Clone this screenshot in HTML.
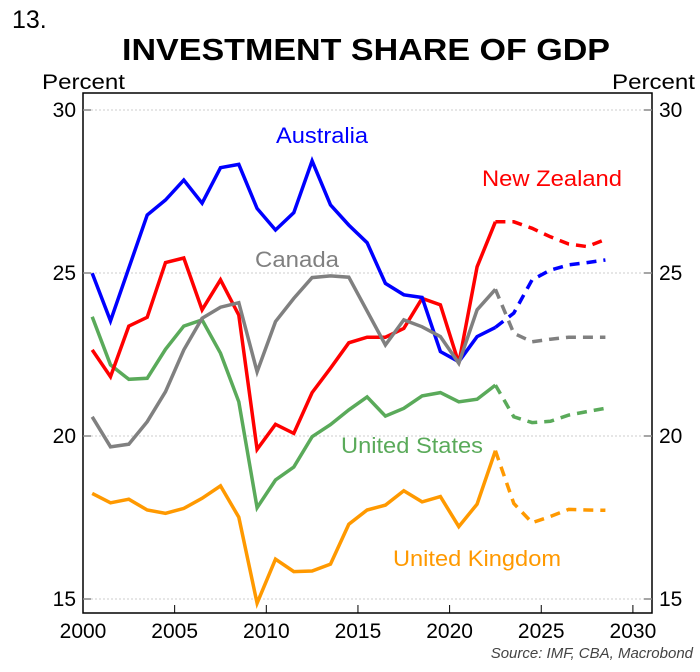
<!DOCTYPE html>
<html><head><meta charset="utf-8"><style>
html,body{margin:0;padding:0;background:#fff;}
svg{display:block;font-family:"Liberation Sans",sans-serif;}
</style></head><body>
<svg id="chart" width="700" height="672" viewBox="0 0 700 672">
<text x="12" y="28" font-size="25" fill="#000">13.</text>
<text x="366" y="60" font-size="31" font-weight="bold" text-anchor="middle" textLength="488" lengthAdjust="spacingAndGlyphs" fill="#000">INVESTMENT SHARE OF GDP</text>
<text x="42" y="89" font-size="21" textLength="83" lengthAdjust="spacingAndGlyphs" fill="#000">Percent</text>
<text x="612" y="89" font-size="21" textLength="83" lengthAdjust="spacingAndGlyphs" fill="#000">Percent</text>
<g id="grid"></g>
<rect x="83" y="93" width="569" height="520" fill="none" stroke="#000" stroke-width="1.5"/>
<g id="axes"></g>
<g id="series"></g>
<text x="322" y="143" font-size="22" textLength="92" lengthAdjust="spacingAndGlyphs" fill="#0000ff" text-anchor="middle">Australia</text>
<text x="552" y="186" font-size="22" textLength="140" lengthAdjust="spacingAndGlyphs" fill="#ff0000" text-anchor="middle">New Zealand</text>
<text x="297" y="267" font-size="22" textLength="84" lengthAdjust="spacingAndGlyphs" fill="#808080" text-anchor="middle">Canada</text>
<text x="412" y="453" font-size="22" textLength="142" lengthAdjust="spacingAndGlyphs" fill="#5aaa5a" text-anchor="middle">United States</text>
<text x="477" y="566" font-size="22" textLength="168" lengthAdjust="spacingAndGlyphs" fill="#ff9900" text-anchor="middle">United Kingdom</text>
<text x="693" y="658" font-size="15" font-style="italic" fill="#444" text-anchor="end">Source: IMF, CBA, Macrobond</text>
</svg>
<script>
const yTicks = [15, 20, 25, 30];
const xTicks = [2000, 2005, 2010, 2015, 2020, 2025, 2030];
const years = [2000,2001,2002,2003,2004,2005,2006,2007,2008,2009,2010,2011,2012,2013,2014,2015,2016,2017,2018,2019,2020,2021,2022];
const forecastYears = [2022,2023,2024,2025,2026,2027,2028];
const australia = [24.99,23.53,25.15,26.78,27.24,27.85,27.14,28.23,28.33,26.98,26.32,26.85,28.44,27.09,26.47,25.93,24.68,24.33,24.25,22.59,22.28,23.05,23.33];
const australiaF = [23.33,23.77,24.79,25.09,25.25,25.32,25.4];
const newZealand = [22.64,21.82,23.37,23.64,25.32,25.46,23.87,24.79,23.71,19.59,20.36,20.08,21.33,22.08,22.86,23.03,23.03,23.3,24.22,24.02,22.23,25.19,26.57];
const newZealandF = [26.57,26.57,26.37,26.11,25.89,25.81,26.03];
const canada = [20.59,19.67,19.75,20.44,21.36,22.64,23.61,23.95,24.09,21.97,23.51,24.22,24.86,24.91,24.87,23.83,22.79,23.56,23.35,23.05,22.23,23.87,24.5];
const canadaF = [24.5,23.15,22.89,22.97,23.03,23.03,23.03];
const unitedStates = [23.66,22.18,21.74,21.77,22.66,23.37,23.56,22.54,21.05,17.8,18.65,19.05,19.98,20.35,20.8,21.2,20.61,20.85,21.23,21.33,21.05,21.13,21.56];
const unitedStatesF = [21.56,20.59,20.41,20.45,20.64,20.75,20.85];
const unitedKingdom = [18.24,17.95,18.06,17.73,17.63,17.78,18.09,18.47,17.51,14.87,16.22,15.84,15.86,16.07,17.29,17.73,17.88,18.32,17.98,18.14,17.22,17.91,19.55];
const unitedKingdomF = [19.55,17.93,17.34,17.53,17.75,17.73,17.72];

const NS = "http://www.w3.org/2000/svg";
function xS(year){ return 83 + (year + 0.5 - 2000) * 18.33; }
function xT(year){ return 83 + (year - 2000) * 18.33; }
function yS(v){ return 110 + (30 - v) * 32.6; }
function mk(tag, attrs, parent){
  const el = document.createElementNS(NS, tag);
  for (const k in attrs) el.setAttribute(k, attrs[k]);
  parent.appendChild(el);
  return el;
}
const grid = document.getElementById('grid');
const axes = document.getElementById('axes');
yTicks.forEach(function(t){
  const y = yS(t);
  const g = mk('line', {x1:83, x2:652, y1:y, y2:y, stroke:'#ccc', 'stroke-width':1, 'stroke-dasharray':'2,2'}, grid);
  
  
  const lt = mk('line', {x1:83, x2:91, y1:y, y2:y, stroke:'#888', 'stroke-width':1.5}, axes);
  
  
  const rt = mk('line', {x1:644, x2:652, y1:y, y2:y, stroke:'#888', 'stroke-width':1.5}, axes);
  
  
  const ll = mk('text', {x:76, y:y+7, 'font-size':21, 'text-anchor':'end', fill:'#000'}, axes);
  ll.textContent = t;
  
  
  const rl = mk('text', {x:659, y:y+7, 'font-size':21, fill:'#000'}, axes);
  rl.textContent = t;
  
  
});
xTicks.forEach(function(t){
  const x = xT(t);
  const tk = mk('line', {x1:x, x2:x, y1:605, y2:613, stroke:'#000', 'stroke-width':1}, axes);
  
  
  const lb = mk('text', {x:x, y:638, 'font-size':21, 'text-anchor':'middle', fill:'#000'}, axes);
  lb.textContent = t;
  
  
});
const series = document.getElementById('series');
function draw(name, xs, vals, color, dashed){
  const pts = vals.map(function(v, i){ return xS(xs[i]).toFixed(1) + ',' + yS(v).toFixed(1); }).join(' ');
  const a = {points:pts, fill:'none', stroke:color, 'stroke-width':3.5, 'stroke-linejoin':'miter'};
  if (dashed) a['stroke-dasharray'] = '10,7';
  const pl = mk('polyline', a, series);
  
  
}
draw('line-united-kingdom', years, unitedKingdom, '#ff9900', false);
draw('line-united-kingdom-forecast', forecastYears, unitedKingdomF, '#ff9900', true);
draw('line-united-states', years, unitedStates, '#5aaa5a', false);
draw('line-united-states-forecast', forecastYears, unitedStatesF, '#5aaa5a', true);
draw('line-new-zealand', years, newZealand, '#ff0000', false);
draw('line-new-zealand-forecast', forecastYears, newZealandF, '#ff0000', true);
draw('line-australia', years, australia, '#0000ff', false);
draw('line-australia-forecast', forecastYears, australiaF, '#0000ff', true);
draw('line-canada', years, canada, '#808080', false);
draw('line-canada-forecast', forecastYears, canadaF, '#808080', true);
</script>
</body></html>
